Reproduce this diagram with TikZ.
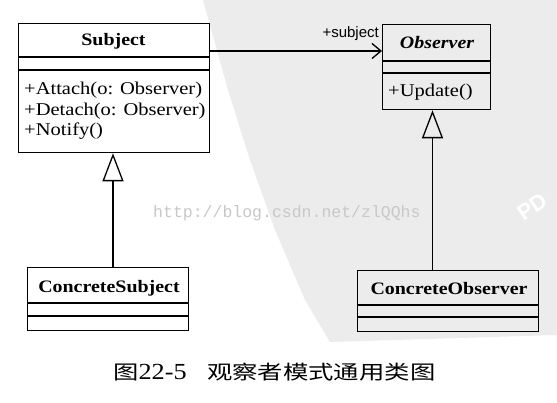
\documentclass[tikz,border=0pt]{standalone}
\usepackage{fontspec}
\setmainfont{Liberation Serif}[FakeStretch=1.14]
\newfontfamily\assocfont{Liberation Sans}
\newfontfamily\urlfont{Liberation Mono}
\newfontfamily\cjkfont{Noto Sans CJK SC}[FakeStretch=1.3]
\usetikzlibrary{arrows.meta}
\definecolor{band}{RGB}{236,236,236}
\definecolor{wm}{RGB}{200,200,200}
\tikzset{
  umlbox/.style={draw, line width=1.3pt, inner sep=0pt, anchor=north west},
  sepline/.style={line width=1.3pt},
  cname/.style={font=\fontsize{17.5}{20}\selectfont\bfseries, inner sep=0pt, anchor=base},
  aname/.style={font=\fontsize{17.5}{20}\selectfont\bfseries\itshape, inner sep=0pt, anchor=base},
  member/.style={font=\fontsize{18}{20}\selectfont, inner sep=0pt, anchor=base west},
  gen/.style={line width=1.3pt, -{Triangle[open,length=28pt,width=21pt,line width=1.3pt]}},
  assoc/.style={line width=1.3pt, -{Straight Barb[length=9pt,width=15pt,line width=1.3pt]}},
}
\begin{document}
\begin{tikzpicture}[x=1pt,y=-1pt]
  \fill[white] (0,0) rectangle (557,403);
  \useasboundingbox (0,0) rectangle (557,403);
  % watermark background
  \fill[band] (203,0) -- (557,0) -- (557,335) -- (330,342) -- (305,300) -- (275,230) -- (250,160) -- (228,90) -- cycle;
  \node[white, font=\assocfont\bfseries\fontsize{22}{22}\selectfont, rotate=35, inner sep=0pt] (pd) at (532,207) {PD};
  \node[wm, font=\urlfont\fontsize{16.5}{18}\selectfont, inner sep=0pt, anchor=base west] (url) at (153,218) {http://blog.csdn.net/zlQQhs};

  % Subject
  \node[umlbox, minimum width=191pt, minimum height=129pt] (subj) at (18,23) {};
  \draw[sepline] (18,57) -- (209,57);
  \draw[sepline] (18,70) -- (209,70);
  \node[cname] (subjname) at (113.5,46) {Subject};
  \node[member] (m1) at (24,95) {+Attach(o: Observer)};
  \node[member] (m2) at (24,115.5) {+Detach(o: Observer)};
  \node[member] (m3) at (24,136) {+Notify()};

  % Observer
  \node[umlbox, minimum width=108pt, minimum height=85pt] (obs) at (382,24) {};
  \draw[sepline] (382,61) -- (490,61);
  \draw[sepline] (382,73) -- (490,73);
  \node[aname] (obsname) at (437,49) {Observer};
  \node[member] (m4) at (388,97) {+Update()};

  % ConcreteSubject
  \node[umlbox, minimum width=161pt, minimum height=63pt] (csub) at (27,267) {};
  \draw[sepline] (27,303) -- (188,303);
  \draw[sepline] (27,316) -- (188,316);
  \node[cname] (csubname) at (109,293) {ConcreteSubject};

  % ConcreteObserver
  \node[umlbox, minimum width=181pt, minimum height=61pt] (cobs) at (357,270) {};
  \draw[sepline] (357,305) -- (538,305);
  \draw[sepline] (357,317) -- (538,317);
  \node[cname] (cobsname) at (449,295) {ConcreteObserver};

  % connectors
  \coordinate (sx) at (113,0);
  \coordinate (ox) at (432.5,0);
  \coordinate (ay) at (0,51);
  \draw[gen] (csub.north -| sx) -- (subj.south -| sx);
  \draw[gen] (cobs.north -| ox) -- (obs.south -| ox);
  \draw[assoc] (subj.east |- ay) -- (obs.west |- ay);
  \node[font=\assocfont\fontsize{15}{15}\selectfont, inner sep=0pt, anchor=base east] (role) at (379,38) {+subject};

  % caption
  \node[anchor=base west, inner sep=0pt] (cap1) at (113,379) {{\cjkfont\fontsize{19.5}{20}\selectfont 图}{\fontsize{23}{24}\selectfont 22-5}};
  \node[anchor=base west, inner sep=0pt, font=\cjkfont\fontsize{19.5}{20}\selectfont] (cap2) at (207,379) {观察者模式通用类图};
\end{tikzpicture}
\end{document}
